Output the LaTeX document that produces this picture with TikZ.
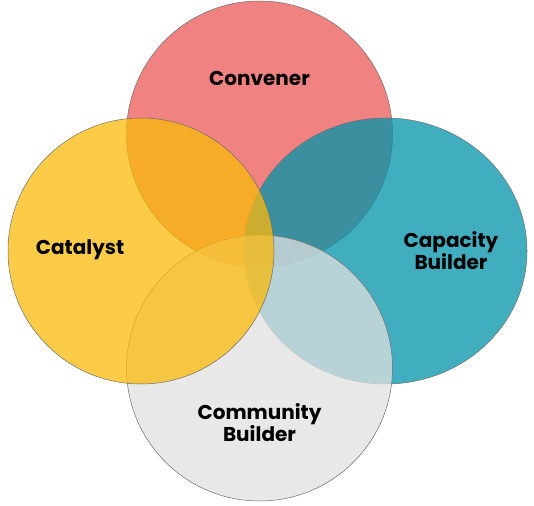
\documentclass[tikz,border=0pt]{standalone}
\usepackage{fontspec}
\setmainfont{Poppins}
\usepackage{xcolor}
\definecolor{vnpink}{RGB}{236,88,88}
\definecolor{vnteal}{RGB}{0,147,170}
\definecolor{vnyellow}{RGB}{251,186,11}
\definecolor{vngray}{RGB}{224,224,224}
\definecolor{vnline}{HTML}{6E6E6E}
\usetikzlibrary{shapes.geometric,positioning,calc}

\begin{document}
\begin{tikzpicture}[x=1pt,y=-1pt]
\tikzset{
 ring/.style={circle,draw=vnline,line width=0.5pt,fill opacity=0.75,inner sep=0pt,outer sep=0pt,minimum size=266pt},
 lbl/.style={font=\fontsize{20}{22}\selectfont\bfseries,align=center,text=black}
}
\useasboundingbox (0,0) rectangle (534,505);
\node[ring,fill=vnpink] (conv) at (259.5,134) {};
\node[ring,ellipse,fill=vnteal,minimum width=283pt,minimum height=266pt] (cap) at (385.5,251) {};
\node[ring,fill=vngray] (comm) at (259.5,368) {};
\node[ring,fill=vnyellow] (cat) at (141,251) {};
\node[lbl] (convtxt) at ($(conv)+(0,-56)$) {Convener};
\node[lbl] (cattxt) at ($(cat)+(-61,-1)$) {Catalyst};
\node[lbl] (captxt) at ($(cap)+(65.5,0)$) {Capacity\\Builder};
\node[lbl] (commtxt) at ($(comm)+(0,55)$) {Community\\Builder};
\end{tikzpicture}
\end{document}
